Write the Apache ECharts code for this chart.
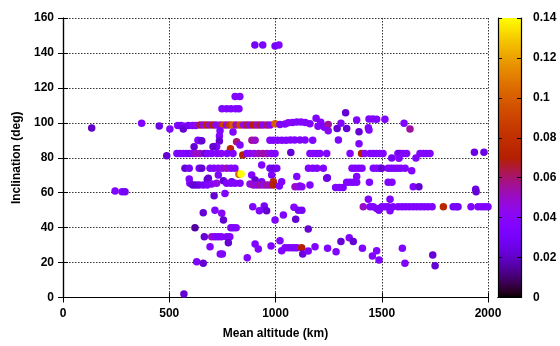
<!DOCTYPE html>
<html>
<head>
<meta charset="utf-8">
<script src="https://cdn.jsdelivr.net/npm/echarts@6/dist/echarts.min.js"></script>
<style>html,body{margin:0;padding:0;background:#fff}#c{width:560px;height:346px}</style>
</head>
<body>
<div id="c"></div>
<script>
// [mean altitude km, inclination deg, colour value]
var pointsHigh = [
[903,144.5,0.03],[940,144.5,0.033],[998,144,0.03],[1016,144.5,0.035],
[810,115,0.035],[832,115,0.035],
[748,108,0.035],[770,108,0.035],[790,108,0.035],[812,108,0.038],[828,108,0.035],
[1191,102.6,0.035],[1330,105.8,0.022],[1382,101.6,0.035],[1440,102.2,0.035],[1458,102.2,0.035],[1476,102,0.035],[1515,102,0.035]
];
var points100 = [
[135,97,0.02],[370,99.7,0.035],[453,98.2,0.025],[503,96.4,0.035],
[540,98.5,0.035],[555,98.5,0.03],[570,98,0.035],[566,96.4,0.022],[590,98.5,0.03],[610,98.5,0.035],[625,98.5,0.04],
[645,98.7,0.065],[660,98.7,0.045],[675,98.7,0.075],[690,98.7,0.05],[706,98.7,0.07],[720,98.7,0.04],[740,98.7,0.05],
[755,98.7,0.09],[770,98.7,0.045],[785,98.7,0.085],[800,98.7,0.1],[815,98.7,0.05],[833,98.7,0.09],[850,98.7,0.045],
[865,98.7,0.065],[880,98.7,0.04],[896,98.7,0.07],[912,98.7,0.05],[928,98.7,0.065],[943,98.7,0.04],[960,98.7,0.06],[975,98.7,0.04],
[998,99.5,0.1],[1021,99,0.035],[1045,99.3,0.035],[1060,100,0.04],[1080,100.2,0.035],[1100,100.4,0.035],[1120,100.4,0.035],[1140,100.2,0.035],[1162,99.5,0.035],
[1200,98,0.035],[1213,100.3,0.035],[1230,97.5,0.035],[1248,99.1,0.055],[1248,95.5,0.04],[1290,96.8,0.022],[1308,99.7,0.035],[1335,96.8,0.022],
[1393,94.9,0.022],[1437,97.2,0.035],[1440,95.9,0.035],[1605,99.7,0.035],[1633,96.4,0.055],[739,95.5,0.035],[800,94.7,0.035],[736,92.4,0.035]
];
var points80to90 = [
[635,90,0.035],[645,89.8,0.035],[653,89.8,0.022],[736,89.6,0.022],[817,89.2,0.06],[889,90,0.055],[904,90,0.05],
[974,90,0.035],[990,90,0.035],[1010,90,0.038],[1030,90,0.035],[1050,90,0.035],[1070,90.2,0.035],[1090,90.2,0.035],[1115,90.2,0.035],[1139,90.2,0.035],
[1175,90,0.035],[1296,90.2,0.035],[1393,88,0.035],[715,86.4,0.035],[723,86.3,0.035],[617,86.3,0.022],[706,86.3,0.022],[833,87.3,0.035],
[788,85.2,0.075],[846,81.6,0.07],
[488,81.2,0.022],[536,82.5,0.035],[550,82.5,0.03],[565,82.5,0.035],[580,82.5,0.035],[595,82.5,0.03],[610,82.5,0.04],[625,82.5,0.05],[645,82.5,0.05],
[668,82.5,0.022],[680,82.5,0.035],[700,82.5,0.035],[725,82.5,0.035],[745,82.5,0.04],[772,82.5,0.035],[800,82.5,0.035],
[865,82.5,0.035],[880,82.5,0.04],[900,82.5,0.045],[920,82.5,0.05],[940,82.5,0.055],[960,82.5,0.05],[980,82.5,0.04],[998,82.5,0.035],
[1072,83,0.022],[1162,82.5,0.035],[1178,82.5,0.035],[1195,82.5,0.035],[1209,82.5,0.035],[1241,82.5,0.035],[1351,82.5,0.035],
[1405,82.5,0.07],[1420,82.5,0.04],[1445,82.5,0.035],[1460,82.5,0.035],[1475,82.5,0.035],[1490,82.5,0.035],[1506,82.5,0.035],
[1547,79.8,0.03],[1576,82.5,0.035],[1586,82.5,0.025],[1600,82.5,0.035],[1617,82.5,0.035],[1581,79.7,0.035],[1661,79.8,0.035],
[1680,82.5,0.035],[1695,82.5,0.035],[1710,82.5,0.035],[1727,82.5,0.035],[1936,83.1,0.025],[1981,83.1,0.025]
];
var points60to75 = [
[574,74,0.022],[594,74,0.03],[641,74,0.03],[653,74,0.022],[692,74,0.035],[710,74,0.035],[731,74,0.04],[750,74,0.045],[770,74,0.05],[790,74,0.04],[809,74,0.035],
[935,75.8,0.035],[974,74,0.03],[990,74,0.025],[1006,74,0.03],[1155,74,0.035],[1175,74,0.035],[1195,74,0.035],[1225,74,0.035],
[1360,74,0.035],[1375,74,0.035],[1392,74,0.035],[1407,74,0.035],[1460,74,0.035],[1476,74,0.035],[1492,74,0.035],[1500,74,0.022],
[1530,74,0.035],[1545,74,0.035],[1560,74,0.035],[1575,74,0.035],[1590,74,0.035],[1610,74,0.035],[1641,72.6,0.035],
[731,70.1,0.035],[888,70.1,0.035],[982,70.1,0.035],[1100,69.2,0.035],[1241,68.2,0.035],[1244,68.6,0.025],[1382,69.2,0.035],
[594,67.8,0.035],[679,67.6,0.022],[684,68.2,0.022],[755,66.9,0.022],[794,66.3,0.022],[904,67.3,0.022],[935,66.3,0.03],[990,66.3,0.075],[1029,66.3,0.035],[1115,63.8,0.035],
[597,65.4,0.035],[610,64.4,0.022],[625,64.4,0.022],[640,64.4,0.025],[660,64.4,0.03],[679,64.4,0.035],[700,65,0.04],[723,65.4,0.045],
[770,65.4,0.035],[790,65.4,0.035],[810,65.4,0.035],[833,65.4,0.035],[880,65,0.045],[896,64.4,0.05],[912,64.4,0.045],[928,64.4,0.055],
[945,64.4,0.045],[960,64.4,0.055],[975,64.4,0.05],[990,64.4,0.07],[1018,63.8,0.035],[1092,63.4,0.05],[1108,63.4,0.045],[1124,63.4,0.04],
[1162,64.4,0.035],[1283,62.9,0.035],[1300,63,0.035],[1318,63,0.035],[1335,66,0.035],[1350,66,0.035],[1365,66,0.035],[1382,66,0.035],
[1442,66,0.035],[1530,66,0.035],[1548,66,0.035],[1648,63.4,0.035],[1675,63.4,0.022],[1942,62,0.025],[1944,60.6,0.022],
[245,61,0.035],[278,60.6,0.035],[292,60.6,0.03],[711,58.3,0.022],[762,59.6,0.035],
[828,70.5,0.1],[838,70.7,0.14]
];
var points50 = [
[660,48.5,0.022],[715,50,0.035],[747,48.2,0.04],[755,44.4,0.022],[893,52,0.035],[924,49.7,0.035],[947,52.4,0.03],[958,49.7,0.022],
[998,44.4,0.035],[1037,47.2,0.035],[1087,51.6,0.035],[1108,50,0.03],[1124,50,0.03],[1095,44.8,0.022],[1154,39.2,0.022],
[1413,52,0.05],[1445,52,0.035],[1460,52,0.035],[1476,51,0.035],[1487,50,0.035],[1500,52,0.035],[1515,52,0.035],[1530,52,0.035],
[1539,49.7,0.035],[1553,52,0.035],[1577,52,0.035],[1595,52,0.035],[1612,52,0.035],[1630,52,0.035],[1648,52,0.035],[1665,52,0.035],
[1683,52,0.035],[1700,52,0.035],[1718,52,0.035],[1737,52,0.035],[1790,52,0.075],[1836,52,0.03],[1850,52,0.03],[1859,52,0.03],
[1920,52,0.035],[1953,52,0.035],[1970,52,0.035],[1985,52,0.035],[2000,52,0.035],[1437,56.2,0.035],[1539,56.2,0.035]
];
var pointsLow = [
[621,40,0.015],[665,34.8,0.022],[700,34.8,0.05],[715,34.8,0.035],[730,34.8,0.035],[745,34.8,0.035],[770,34.8,0.035],[785,34.8,0.035],
[778,31.4,0.022],[692,29.1,0.035],[740,24.9,0.035],[750,24.9,0.035],[629,20.5,0.035],[660,19.6,0.022],[569,2,0.022],
[790,40,0.03],[801,40,0.035],[815,40,0.035],
[904,30.6,0.035],[919,27.8,0.035],[979,29.5,0.035],[1021,32.5,0.035],[1029,26.8,0.035],[1045,28.5,0.035],[1060,28.5,0.035],
[1075,28.5,0.035],[1090,28.5,0.035],[1101,28.5,0.035],[1123,28.5,0.07],[1128,24.9,0.025],[1154,26.6,0.035],[1186,29.1,0.035],
[1245,28.2,0.035],[1285,26.2,0.035],[1308,32,0.022],[1347,34.2,0.035],[1366,32,0.022],[867,22.8,0.035],
[1409,28.2,0.035],[1476,26.8,0.035],[1456,23.8,0.035],[1487,21.5,0.035],[1597,28.2,0.035],[1609,19.6,0.035],[1740,24.3,0.022],[1751,18.2,0.022]
];
var xTicks = [0, 500, 1000, 1500, 2000];
var yTicks = [0, 20, 40, 60, 80, 100, 120, 140, 160];
var cbTicks = [0, 0.02, 0.04, 0.06, 0.08, 0.1, 0.12, 0.14];

// gnuplot default palette (rgbformulae 7,5,15)
function pal(x){
  var r = Math.sqrt(x), g = x*x*x, b = Math.max(0, Math.sin(2*Math.PI*x));
  function h(v){ v = Math.round(Math.min(1,Math.max(0,v))*255); return (v<16?'0':'')+v.toString(16); }
  return '#' + h(r) + h(g) + h(b);
}
var N = 64, palColors = [], palStops = [];
for (var i = 0; i <= N; i++) { palColors.push(pal(i/N)); palStops.push({offset: i/N, color: pal(i/N)}); }

var allPoints = [].concat(pointsHigh, points100, points80to90, points60to75, points50, pointsLow);
var cbMax = cbTicks[cbTicks.length-1];

var font = {fontFamily: 'Liberation Sans', fontWeight: 'bold', fontSize: 12, color: '#000'};
var lineBlack = {show: true, lineStyle: {color: '#000', width: 1.2}};
var gridLine = {show: true, lineStyle: {color: '#333', type: [1.5, 1.5], width: 1}};
var plain = function(v){ return String(v); };

var chart = echarts.init(document.getElementById('c'));
chart.setOption({
  animation: false,
  backgroundColor: '#fff',
  grid: [
    {left: 63, top: 18, width: 425, height: 279.5},
    {left: 498, top: 18, width: 23, height: 279.5}
  ],
  visualMap: {
    show: false, type: 'continuous', seriesIndex: 0, dimension: 2,
    min: 0, max: cbMax, inRange: {color: palColors}
  },
  xAxis: [
    {gridIndex: 0, type: 'value', position: 'bottom', min: xTicks[0], max: xTicks[xTicks.length-1], interval: 500,
     name: 'Mean altitude (km)', nameLocation: 'middle', nameGap: 30, nameTextStyle: font,
     axisLine: lineBlack, axisTick: {show: true, inside: true, length: 5, lineStyle: {color: '#000'}},
     axisLabel: Object.assign({margin: 10, formatter: plain}, font), splitLine: gridLine},
    {gridIndex: 0, type: 'value', position: 'top', min: xTicks[0], max: xTicks[xTicks.length-1], interval: 500,
     axisLine: lineBlack, axisTick: {show: true, inside: true, length: 5, lineStyle: {color: '#000'}},
     axisLabel: {show: false}, splitLine: {show: false}},
    {gridIndex: 1, type: 'category', data: ['cb'], position: 'bottom', axisLine: lineBlack,
     axisTick: {show: false}, axisLabel: {show: false}},
    {gridIndex: 1, type: 'category', data: ['cb'], position: 'top', axisLine: lineBlack,
     axisTick: {show: false}, axisLabel: {show: false}}
  ],
  yAxis: [
    {gridIndex: 0, type: 'value', position: 'left', min: yTicks[0], max: yTicks[yTicks.length-1], interval: 20,
     name: 'Inclination (deg)', nameLocation: 'middle', nameGap: 40, nameRotate: 90, nameTextStyle: font,
     axisLine: lineBlack, axisTick: {show: true, inside: true, length: 5, lineStyle: {color: '#000'}},
     axisLabel: Object.assign({margin: 9, formatter: plain}, font), splitLine: gridLine},
    {gridIndex: 0, type: 'value', position: 'right', min: yTicks[0], max: yTicks[yTicks.length-1], interval: 20,
     axisLine: lineBlack, axisTick: {show: true, inside: true, length: 5, lineStyle: {color: '#000'}},
     axisLabel: {show: false}, splitLine: {show: false}},
    {gridIndex: 1, type: 'value', position: 'right', min: 0, max: cbMax, interval: 0.02,
     axisLine: lineBlack, axisTick: {show: true, inside: true, length: 4, lineStyle: {color: '#000'}},
     axisLabel: Object.assign({margin: 12, formatter: function(v){ return String(+v.toFixed(2)); }}, font),
     splitLine: {show: false}, z: 5},
    {gridIndex: 1, type: 'value', position: 'left', min: 0, max: cbMax, interval: 0.02,
     axisLine: lineBlack, axisTick: {show: true, inside: true, length: 4, lineStyle: {color: '#000'}},
     axisLabel: {show: false}, splitLine: {show: false}, z: 5}
  ],
  series: [
    {type: 'scatter', xAxisIndex: 0, yAxisIndex: 0, symbolSize: 7.5, data: allPoints,
     itemStyle: {opacity: 1}},
    {type: 'bar', xAxisIndex: 2, yAxisIndex: 2, barWidth: '100%', data: [cbMax], z: 1,
     itemStyle: {color: new echarts.graphic.LinearGradient(0, 1, 0, 0, palStops)}}
  ]
});
</script>
</body>
</html>
